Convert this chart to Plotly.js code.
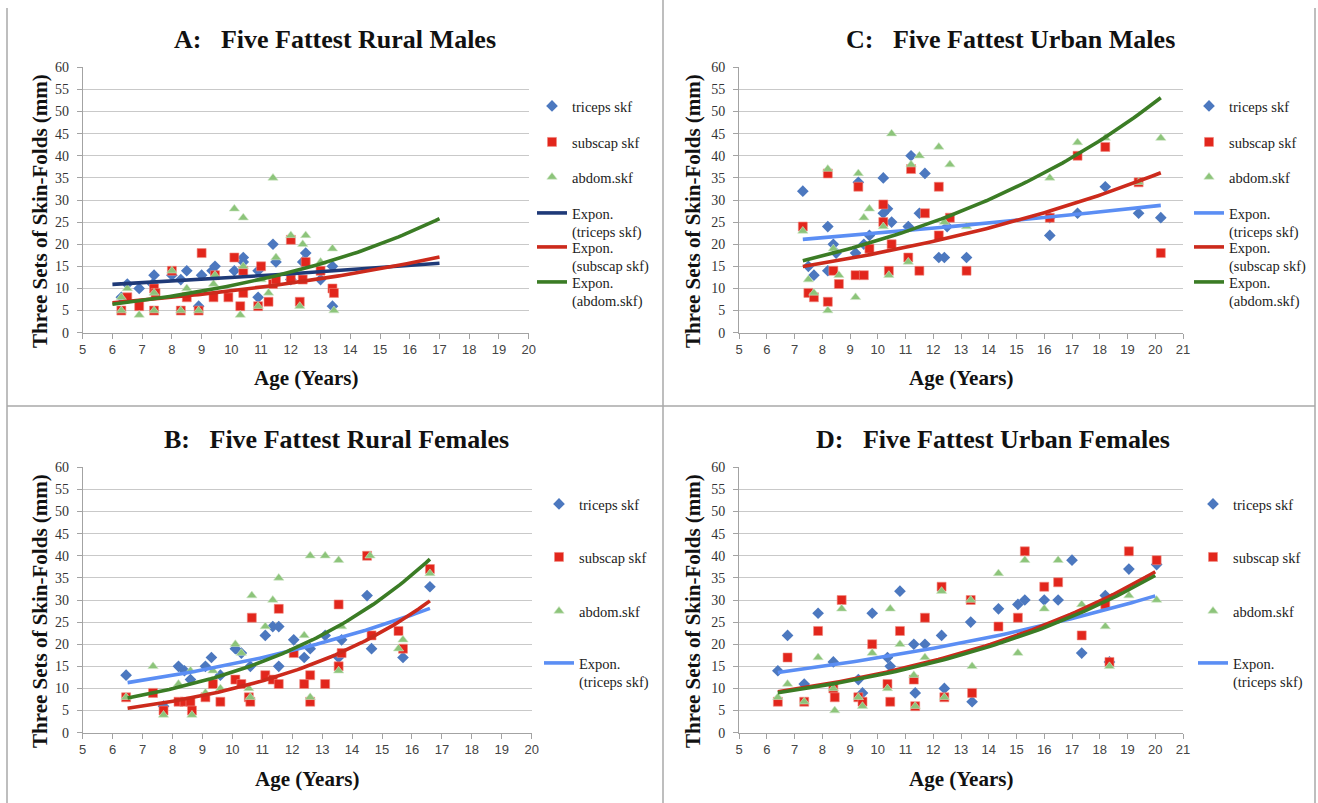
<!DOCTYPE html>
<html>
<head>
<meta charset="utf-8">
<script src="https://cdn.plot.ly/plotly-3.0.1.min.js"></script>
<style>
html,body{margin:0;padding:0;background:#fff;}
#chart{width:1318px;height:803px;}
</style>
</head>
<body>
<div id="chart"></div>
<script>
// ---------------- DATA ----------------
// Panel A: Five Fattest Rural Males
const ageA_tri = [6.3,6.5,6.9,7.4,7.35,8.0,8.3,8.5,8.9,9.0,9.35,9.45,10.1,10.4,10.4,10.9,10.9,11.4,11.5,12.0,12.4,12.5,13.0,13.4,13.4];
const triA     = [8,11,10,13,11,13,12,14,6,13,14,15,14,17,16,8,14,20,16,12,16,18,12,15,6];
const ageA_sub = [6.3,6.5,6.9,7.4,7.45,7.4,8.0,8.3,8.5,8.9,9.0,9.4,9.45,9.9,10.1,10.3,10.4,10.4,10.9,11.0,11.25,11.4,11.5,12.0,12.0,12.3,12.4,12.5,13.0,13.4,13.45];
const subA     = [5,8,6,10,9,5,14,5,8,5,18,8,13,8,17,6,14,9,6,15,7,11,12,21,12,7,12,16,14,10,9];
const ageA_abd = [6.3,6.3,6.5,6.9,7.4,7.4,8.0,8.3,8.5,8.9,9.4,9.45,10.1,10.4,10.4,10.3,10.9,11.0,11.25,11.4,11.5,12.0,12.3,12.4,12.5,13.0,13.4,13.45];
const abdA     = [8,5,10,4,9,5,14,5,10,5,11,13,28,26,15,4,6,12,9,35,17,22,6,20,22,16,19,5];

// Panel C: Five Fattest Urban Males
const ageC_tri = [7.3,7.5,7.7,8.2,8.2,8.4,8.5,9.2,9.3,9.5,9.7,10.2,10.2,10.35,10.5,11.1,11.2,11.5,11.7,12.2,12.4,12.5,13.2,16.2,16.2,17.2,18.2,19.4,20.2];
const triC     = [32,15,13,24,14,20,18,18,34,20,22,35,27,28,25,24,40,27,36,17,17,24,17,22,26,27,33,27,26];
const ageC_sub = [7.3,7.5,7.7,8.2,8.2,8.4,8.6,9.2,9.3,9.5,9.7,10.2,10.2,10.4,10.5,11.1,11.2,11.5,11.7,12.2,12.2,12.6,13.2,16.2,17.2,18.2,19.4,20.2];
const subC     = [24,9,8,36,7,14,11,13,33,13,19,29,25,14,20,17,37,14,27,33,22,26,14,26,40,42,34,18];
const ageC_abd = [7.3,7.5,7.7,8.2,8.2,8.4,8.6,9.2,9.3,9.5,9.7,10.2,10.4,10.5,11.1,11.2,11.5,12.2,12.4,12.6,13.2,16.2,17.2,18.2,19.4,20.2];
const abdC     = [23,12,9,37,5,19,13,8,36,26,28,24,13,45,16,38,40,42,25,38,24,35,43,44,34,44];

// Panel B: Five Fattest Rural Females
const ageB_tri = [6.45,7.7,8.2,8.4,8.6,9.1,9.3,9.6,10.1,10.3,10.6,11.1,11.35,11.55,11.55,12.05,12.4,12.6,13.1,13.55,13.65,14.5,14.65,15.7,16.6];
const triB     = [13,6,15,14,12,15,17,13,19,18,15,22,24,24,15,21,17,19,22,17,21,31,19,17,33];
const ageB_sub = [6.45,7.35,7.7,8.2,8.4,8.6,8.65,9.1,9.35,9.6,10.1,10.3,10.55,10.6,10.65,11.1,11.35,11.55,11.55,12.05,12.4,12.6,12.6,13.1,13.55,13.55,13.65,14.5,14.65,15.55,15.7,16.6];
const subB     = [8,9,5,7,7,7,5,8,11,7,12,11,8,7,26,13,12,28,11,18,11,13,7,11,29,15,18,40,22,23,19,37];
const ageB_abd = [6.45,7.35,7.7,8.2,8.6,8.65,9.1,9.35,9.6,10.1,10.3,10.55,10.6,10.65,11.1,11.35,11.55,12.4,12.6,12.6,13.1,13.55,13.55,13.65,14.6,15.55,15.7,16.6];
const abdB     = [8,15,4,11,14,4,9,14,10,20,18,10,8,31,24,30,35,22,8,40,40,39,14,24,40,19,21,36];

// Panel D: Five Fattest Urban Females
const ageD_tri = [6.4,6.75,7.35,7.85,8.4,9.3,9.45,9.8,10.35,10.45,10.8,11.3,11.35,11.7,12.3,12.4,13.35,13.4,14.35,15.05,15.3,16.0,16.5,17.0,17.35,18.2,18.35,19.05,20.05];
const triD     = [14,22,11,27,16,12,9,27,17,15,32,20,9,20,22,10,25,7,28,29,30,30,30,39,18,31,16,37,38];
const ageD_sub = [6.4,6.75,7.35,7.85,8.4,8.45,8.7,9.3,9.45,9.8,10.35,10.45,10.8,11.3,11.35,11.7,12.3,12.4,13.35,13.4,14.35,15.05,15.3,16.0,16.5,17.35,18.2,18.35,19.05,20.05];
const subD     = [7,17,7,23,10,8,30,8,7,20,11,7,23,12,6,26,33,8,30,9,24,26,41,33,34,22,29,16,41,39];
const ageD_abd = [6.4,6.75,7.35,7.85,8.4,8.45,8.7,9.3,9.45,9.8,10.35,10.45,10.8,11.3,11.35,11.7,12.3,12.4,13.35,13.4,14.35,15.05,15.3,16.0,16.5,17.35,18.2,18.35,19.05,20.05];
const abdD     = [8,11,7,17,10,5,28,8,6,18,10,28,20,13,6,17,32,8,30,15,36,18,39,28,39,29,24,15,31,30];

// x-extent of the exponential trend lines (Excel forecast range)
const trendRangeA = [6.0, 17.0];
const trendRangeC = [7.3, 20.2];
const trendRangeB = [6.5, 16.6];
const trendRangeD = [6.4, 20.0];

const seriesNames = ['triceps skf','subscap skf','abdom.skf'];
const trendNames  = ['Expon.<br>(triceps skf)','Expon.<br>(subscap skf)','Expon.<br>(abdom.skf)'];
const panelTitles = ['A:\u00a0\u00a0\u00a0Five Fattest Rural Males','C:\u00a0\u00a0\u00a0Five Fattest Urban Males',
                     'B:\u00a0\u00a0\u00a0Five Fattest Rural Females','D:\u00a0\u00a0\u00a0Five Fattest Urban Females'];
const yTitle = 'Three Sets of Skin-Folds (mm)';
const xTitle = 'Age (Years)';

// ---------------- helpers ----------------
function expFit(xs, ys){
  const n = xs.length; let sx=0, sy=0, sxx=0, sxy=0;
  for(let i=0;i<n;i++){const l=Math.log(ys[i]); sx+=xs[i]; sy+=l; sxx+=xs[i]*xs[i]; sxy+=xs[i]*l;}
  const b=(n*sxy-sx*sy)/(n*sxx-sx*sx); const a=Math.exp((sy-b*sx)/n);
  return {a:a,b:b};
}
function trendXY(xs, ys, range){
  const f=expFit(xs,ys); const X=[],Y=[]; const N=80;
  for(let i=0;i<=N;i++){const x=range[0]+(range[1]-range[0])*i/N; X.push(x); Y.push(f.a*Math.exp(f.b*x));}
  return {x:X,y:Y};
}

const SERIF = 'Liberation Serif, Times New Roman, serif';
const W=1318, H=803;
const px = v => v/W, py = v => 1 - v/H;

const markerStyles = [
  {symbol:'diamond', size:9, color:'#4c78bf', line:{width:0}},
  {symbol:'square', size:9, color:'#e2261c', line:{width:0.6, color:'#f08a80'}},
  {symbol:'triangle-up', size:9, color:'#8cc47a', line:{width:0.6, color:'#cfe6c6'}}
];

// legend item placement (left edge x, item centre y) per panel
const panels = [
  {key:'A', ax:'', data:[[ageA_tri,triA],[ageA_sub,subA],[ageA_abd,abdA]], range:trendRangeA,
   trendColors:['#1f3a78','#cc2a1c','#3b7c25'], trendLegend:[true,true,true],
   legX:532, legY:[106,142,177,213,247,282]},
  {key:'C', ax:'2', data:[[ageC_tri,triC],[ageC_sub,subC],[ageC_abd,abdC]], range:trendRangeC,
   trendColors:['#5b8ef4','#cc2a1c','#3b7c25'], trendLegend:[true,true,true],
   legX:1189, legY:[106,142,177,213,247,282]},
  {key:'B', ax:'3', data:[[ageB_tri,triB],[ageB_sub,subB],[ageB_abd,abdB]], range:trendRangeB,
   trendColors:['#5b8ef4','#cc2a1c','#3b7c25'], trendLegend:[true,false,false],
   legX:539, legY:[504,557,611,663]},
  {key:'D', ax:'4', data:[[ageD_tri,triD],[ageD_sub,subD],[ageD_abd,abdD]], range:trendRangeD,
   trendColors:['#5b8ef4','#cc2a1c','#3b7c25'], trendLegend:[true,false,false],
   legX:1193, legY:[504,557,611,663]}
];

const traces = [];
const legends = {};
let legCount = 0;
function newLegend(xLeft, yCentre){
  legCount++;
  const name = legCount===1 ? 'legend' : 'legend'+legCount;
  legends[name] = {x:px(xLeft), y:py(yCentre-16), xanchor:'left', yanchor:'top', bgcolor:'rgba(0,0,0,0)',
    borderwidth:0, font:{family:SERIF, size:14.5, color:'#222'}, valign:'top'};
  return name;
}
panels.forEach(p=>{
  let li = 0;
  p.data.forEach((d,i)=>{
    const lg = newLegend(p.legX, p.legY[li++]);
    traces.push({type:'scatter', mode:'markers', x:d[0], y:d[1], name:seriesNames[i],
      xaxis:'x'+p.ax, yaxis:'y'+p.ax, legend:lg, marker:markerStyles[i], hoverinfo:'x+y'});
  });
  p.data.forEach((d,i)=>{
    const t = trendXY(d[0], d[1], p.range);
    const tr = {type:'scatter', mode:'lines', x:t.x, y:t.y, name:trendNames[i],
      xaxis:'x'+p.ax, yaxis:'y'+p.ax, showlegend:p.trendLegend[i],
      line:{color:p.trendColors[i], width:3.6}, hoverinfo:'skip'};
    if(p.trendLegend[i]) tr.legend = newLegend(p.legX, p.legY[li++]);
    traces.push(tr);
  });
});

// ---------------- layout ----------------
function xAxis(domain, anchor, maxX){
  return {domain:domain, anchor:anchor, range:[5,maxX], dtick:1, tick0:5, showgrid:false, zeroline:false,
    showline:true, linecolor:'#a3a3a3', linewidth:1, ticks:'outside', ticklen:5, tickcolor:'#a3a3a3',
    tickfont:{family:'Liberation Sans, Arial, sans-serif', size:13, color:'#444'}, fixedrange:true};
}
function yAxis(domain, anchor){
  return {domain:domain, anchor:anchor, range:[0,60], dtick:5, tick0:0, showgrid:true, gridcolor:'#c9c9c9', gridwidth:1,
    zeroline:false, showline:true, linecolor:'#a3a3a3', linewidth:1, ticks:'outside', ticklen:5, tickcolor:'#a3a3a3',
    ticklabelstandoff:5, tickfont:{family:SERIF, size:14, color:'#333'}, fixedrange:true};
}
const xdL=[px(82.7),px(528.7)], xdLb=[px(82.7),px(531.7)], xdR=[px(739),px(1183)];
const ydT=[py(332.7),py(67.3)], ydB=[py(732.7),py(467.3)];

const annotations = [];
const titlePos = [[335,40],[1010,40],[336,439],[993,439]];
panelTitles.forEach((t,i)=>annotations.push({text:'<b>'+t+'</b>', xref:'paper', yref:'paper',
  x:px(titlePos[i][0]), y:py(titlePos[i][1]), xanchor:'center', yanchor:'middle', showarrow:false,
  font:{family:SERIF, size:26, color:'#111'}}));
const yTitlePos = [[40,211],[693,211],[40,611],[693,611]];
yTitlePos.forEach(p=>annotations.push({text:'<b>'+yTitle+'</b>', xref:'paper', yref:'paper', x:px(p[0]), y:py(p[1]),
  xanchor:'center', yanchor:'middle', textangle:-90, showarrow:false, font:{family:SERIF, size:21, color:'#111'}}));
const xTitlePos = [[305.7,378],[961,378],[307,779],[961,779]];
xTitlePos.forEach(p=>annotations.push({text:'<b>'+xTitle+'</b>', xref:'paper', yref:'paper', x:px(p[0]), y:py(p[1]),
  xanchor:'center', yanchor:'middle', showarrow:false, font:{family:SERIF, size:21, color:'#111'}}));

const sepLine = {color:'#a8a8a8', width:1.5};
const shapes = [
  {type:'line', xref:'paper', yref:'paper', x0:px(663), x1:px(663), y0:0, y1:1, line:sepLine},
  {type:'line', xref:'paper', yref:'paper', x0:px(7), x1:px(1315), y0:py(406), y1:py(406), line:sepLine},
  {type:'line', xref:'paper', yref:'paper', x0:px(7), x1:px(7), y0:0, y1:py(8), line:sepLine},
  {type:'line', xref:'paper', yref:'paper', x0:px(1315), x1:px(1315), y0:0, y1:py(8), line:sepLine}
];

const layout = Object.assign({
  width:W, height:H, margin:{l:0,r:0,t:0,b:0}, paper_bgcolor:'#fff', plot_bgcolor:'#fff', showlegend:true,
  font:{family:SERIF, size:14, color:'#222'},
  xaxis:xAxis(xdL,'y',20), yaxis:yAxis(ydT,'x'),
  xaxis2:xAxis(xdR,'y2',21), yaxis2:yAxis(ydT,'x2'),
  xaxis3:xAxis(xdLb,'y3',20), yaxis3:yAxis(ydB,'x3'),
  xaxis4:xAxis(xdR,'y4',21), yaxis4:yAxis(ydB,'x4'),
  annotations:annotations, shapes:shapes
}, legends);

Plotly.newPlot('chart', traces, layout, {displayModeBar:false});
</script>
</body>
</html>
